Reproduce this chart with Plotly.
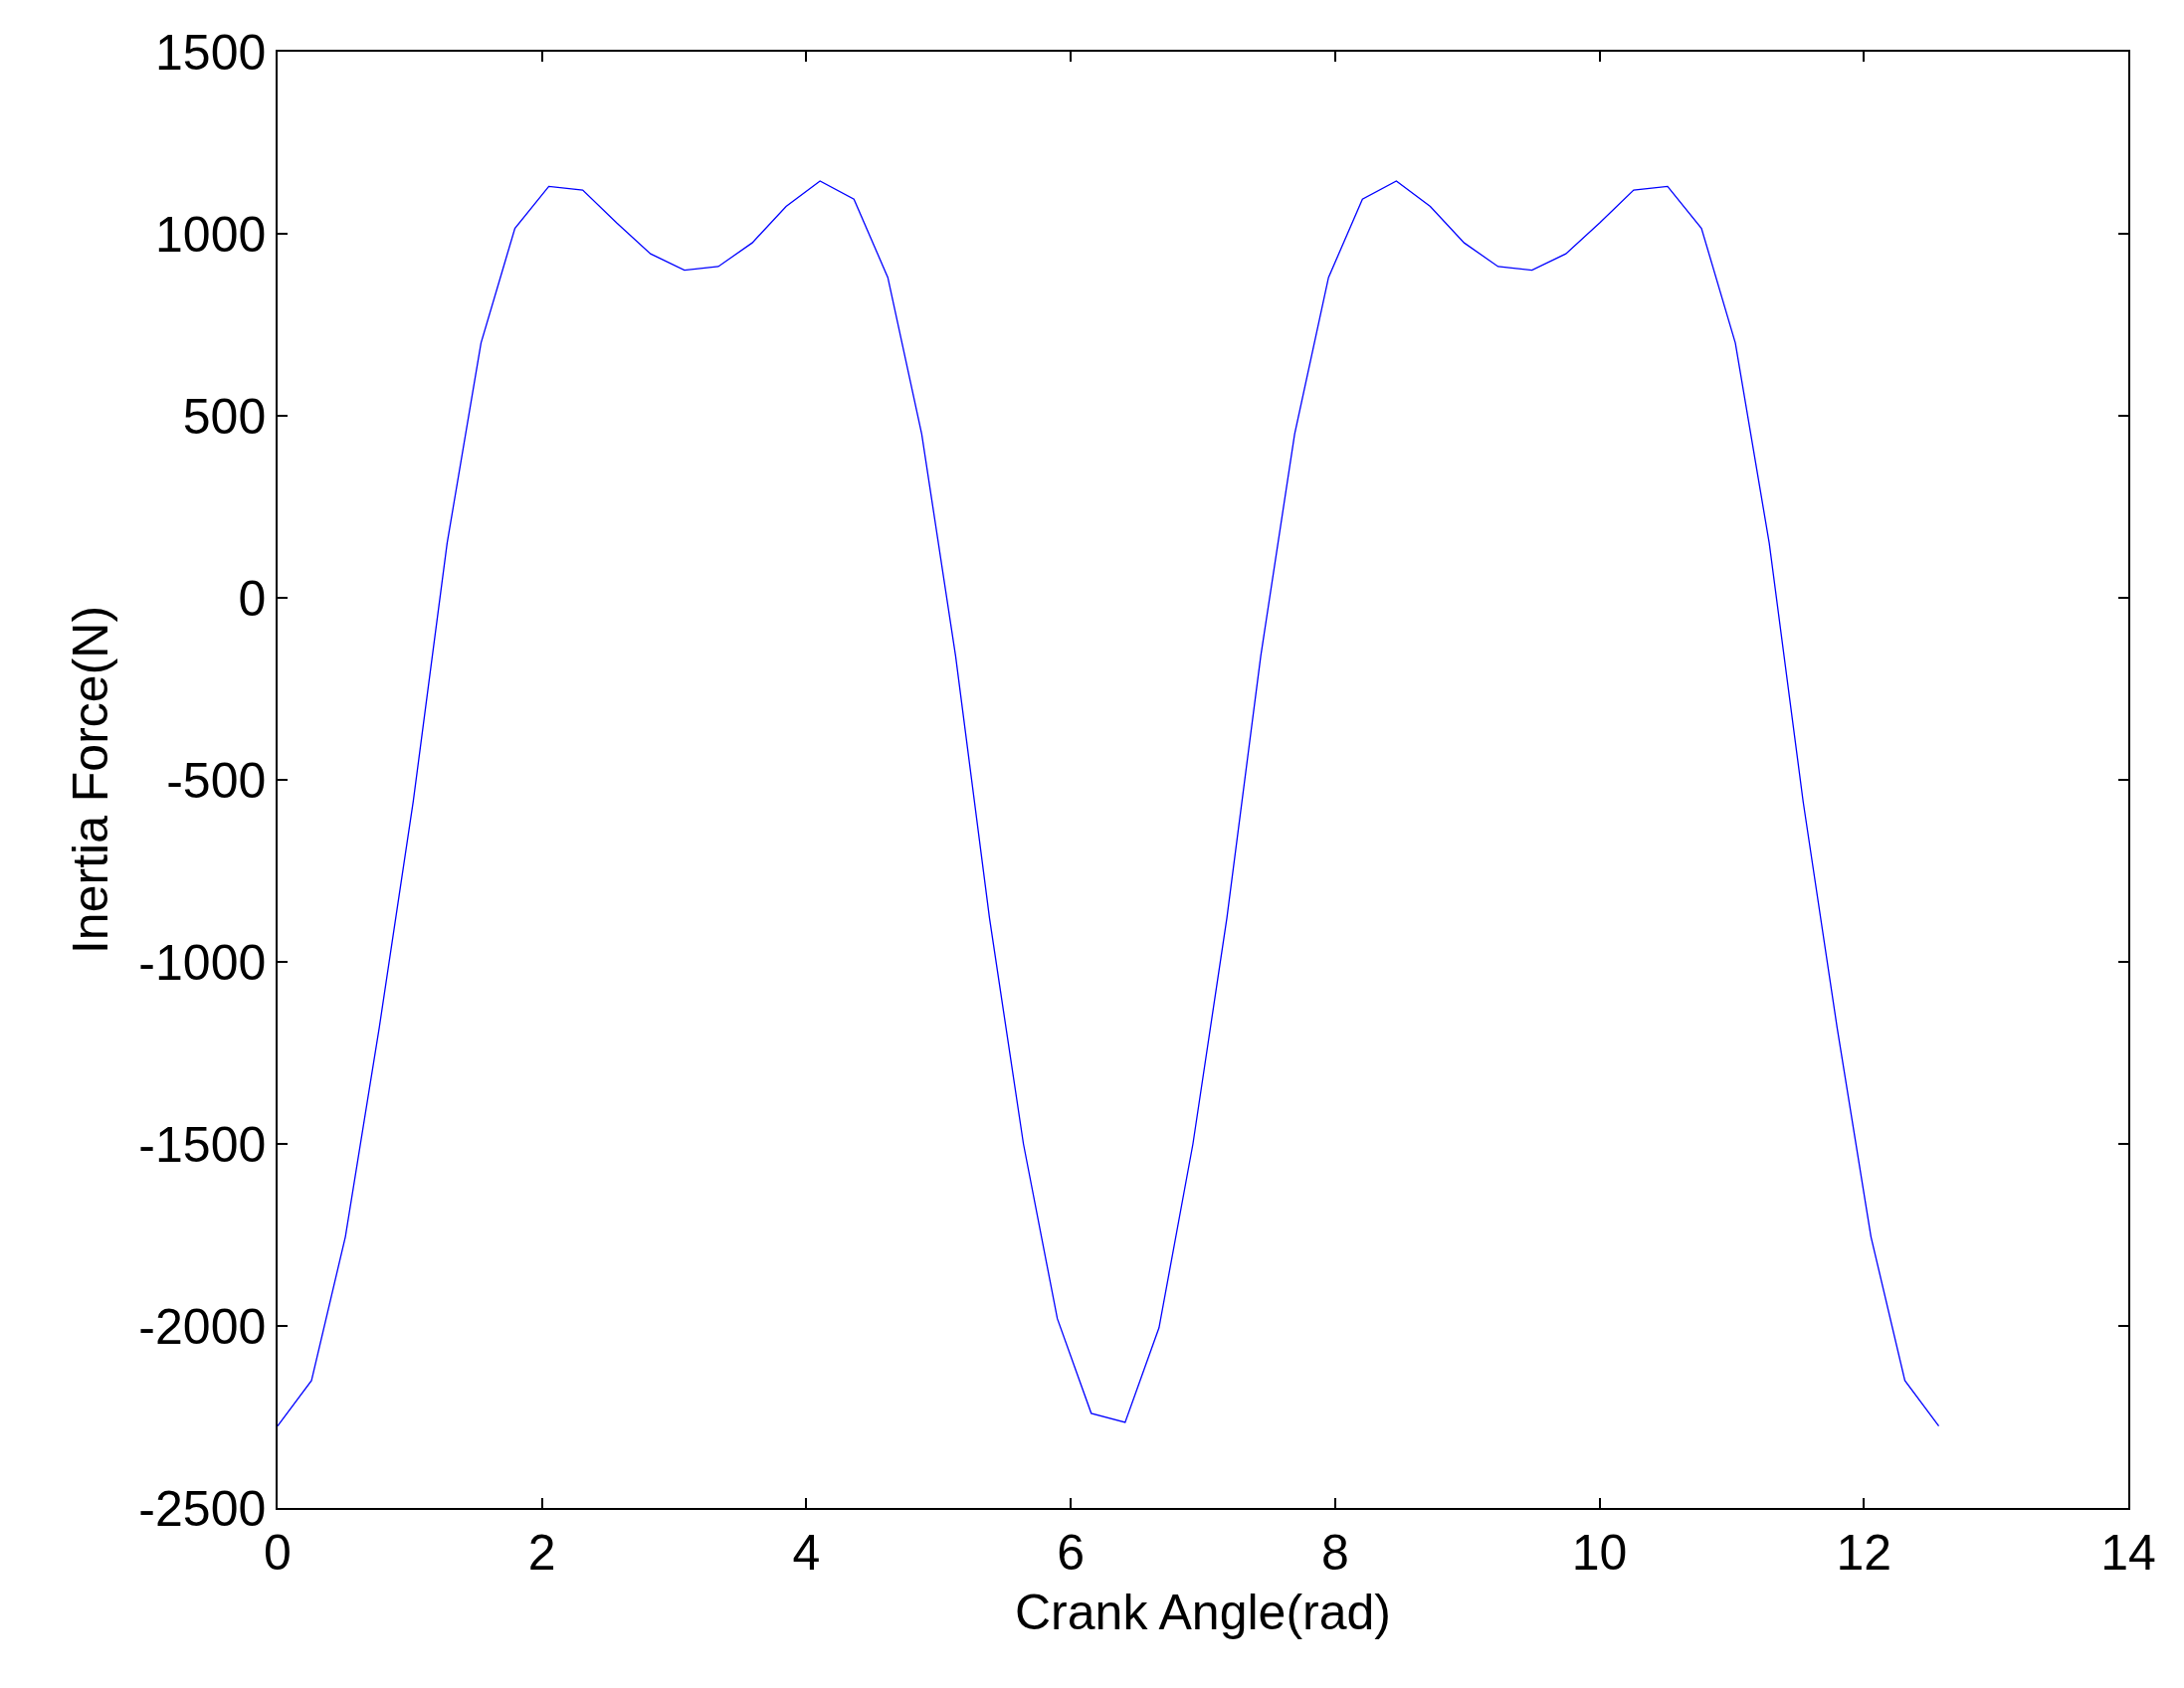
import numpy as np
import plotly.graph_objects as go

n_points = 50
x_end = 4 * np.pi
crank_angle = np.linspace(0, x_end, n_points)
inertia_force = [-2275, -2150, -1755, -1180, -560, 150, 700, 1015, 1130, 1120,
                 1030, 945, 900, 910, 975, 1075, 1145, 1095, 880, 450,
                 -160, -880, -1500, -1980, -2240, -2265, -2005, -1500, -880, -160,
                 450, 880, 1095, 1145, 1075, 975, 910, 900, 945, 1030,
                 1120, 1130, 1015, 700, 150, -560, -1180, -1755, -2150, -2275]
y_ticks = [-2500, -2000, -1500, -1000, -500, 0, 500, 1000, 1500]
y_ticktext = [str(v) for v in y_ticks]

fig = go.Figure(go.Scatter(x=crank_angle, y=inertia_force, mode="lines",
                           line=dict(color="#0000ff", width=1.3)))
ax = dict(showgrid=False, zeroline=False, showline=True, linecolor="black", linewidth=1.5,
          mirror="ticks", ticks="inside", ticklen=10, tickwidth=2, tickcolor="black",
          tickfont=dict(size=50, color="black"))
fig.update_xaxes(range=[0, 14], dtick=2, title=dict(text="Crank Angle(rad)", font=dict(size=50), standoff=15), **ax)
fig.update_yaxes(range=[-2500, 1500], tickvals=y_ticks, ticktext=y_ticktext,
                 title=dict(text="Inertia Force(N)", font=dict(size=50), standoff=15), **ax)
fig.update_layout(width=2195, height=1697, plot_bgcolor="white", paper_bgcolor="white",
                  font=dict(family="Liberation Sans, Arial", color="black"),
                  margin=dict(l=271, r=64, t=44, b=189), showlegend=False)
fig.write_html("out.html")
